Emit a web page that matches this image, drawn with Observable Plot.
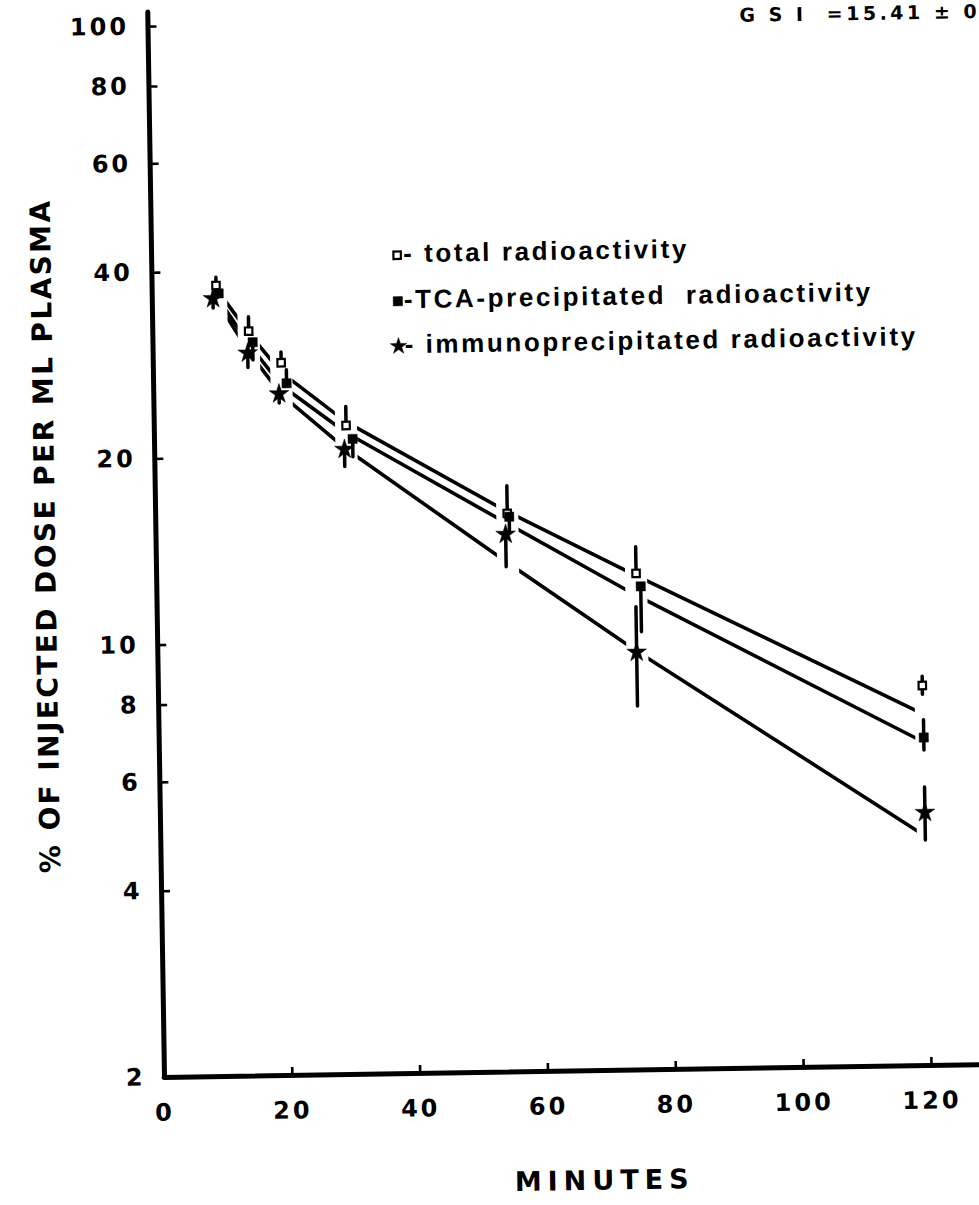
<!DOCTYPE html>
<html>
<head>
<meta charset="utf-8">
<script src="https://cdn.jsdelivr.net/npm/d3@7"></script>
<script src="https://cdn.jsdelivr.net/npm/@observablehq/plot@0.6"></script>
<style>
html, body { margin: 0; padding: 0; background: #fff; overflow: hidden; width: 979px; height: 1205px; }
#fig { position: relative; width: 979px; height: 1205px; transform: rotate(-0.9deg); transform-origin: 164px 1077px; }
#fig svg { position: absolute; left: 0; top: 0; }
.legend-row { position: absolute; font-family: "Liberation Sans", Arial, sans-serif; font-weight: bold; font-size: 26px; letter-spacing: 2.6px; line-height: 26px; white-space: pre; color: #000; }
.legend-sym { position: absolute; }
.gsi { position: absolute; font-family: "DejaVu Sans", sans-serif; font-weight: bold; font-size: 19px; letter-spacing: 3.5px; line-height: 19px; white-space: pre; color: #000; }
</style>
</head>
<body>
<div id="fig"></div>
<script>
// ---- data ----
const seriesNames = ["total radioactivity", "TCA-precipitated radioactivity", "immunoprecipitated radioactivity"];
const legendLabels = ["- total radioactivity", "-TCA-precipitated  radioactivity", "- immunoprecipitated radioactivity"];
const seriesSymbols = ["square", "square", "star"];
const seriesFills = ["white", "black", "black"];

// sampling times (minutes) for each series (plotted slightly offset)
const minutesTotal  = [10, 15, 20, 30, 55, 75, 119.5];
const minutesTCA    = [10.4, 15.6, 20.8, 31, 55.3, 75.7, 119.6];
const minutesImmuno = [9.5, 14.8, 19.6, 29.7, 54.7, 74.9, 119.6];

// % of injected dose per ml plasma
const totalPct  = [38.0, 32.0, 28.4, 22.4, 16.0, 12.7, 8.23];
const totalHi   = [39.1, 33.7, 29.5, 24.0, 17.7, 14.0, 8.5];
const totalLo   = [38.0, 32.0, 28.4, 22.4, 16.0, 12.7, 7.95];
const tcaPct    = [36.9, 30.7, 26.3, 21.3, 15.8, 12.1, 6.78];
const tcaHi     = [36.9, 30.7, 27.6, 21.3, 15.8, 12.1, 7.23];
const tcaLo     = [36.9, 28.7, 26.3, 19.9, 15.0, 10.2, 6.46];
const immunoPct = [36.2, 29.5, 25.3, 20.5, 14.8, 9.47, 5.13];
const immunoHi  = [36.2, 29.5, 25.3, 20.5, 14.8, 11.2, 5.63];
const immunoLo  = [34.9, 27.9, 24.4, 19.2, 13.1, 7.74, 4.62];

// hand-drawn fitted curves, read at the sampling times
const fitMinutes = [10, 15, 20, 30, 55, 75, 120];
const totalFit  = [37.6, 31.8, 27.4, 22.7, 16.1, 12.6, 7.36];
const tcaFit    = [36.6, 30.5, 26.1, 21.8, 15.4, 11.7, 6.63];
const immunoFit = [36.0, 29.6, 25.2, 20.5, 13.3, 9.5, 4.67];

// axes
const yTicks = [2, 4, 6, 8, 10, 20, 40, 60, 80, 100];
const xTickLabels = [0, 20, 40, 60, 80, 100, 120];
const xTickMarks = [20, 40, 60, 80, 100, 120];
const yTitle = "% OF INJECTED DOSE PER ML PLASMA";
const xTitle = "MINUTES";
const gsiText = "G S I  =15.41 ± 0";

// ---- build tables ----
function rows(name, t, v, lo, hi) {
  return t.map((d, i) => ({series: name, t: d, v: v[i], lo: lo[i], hi: hi[i]}));
}
const pts = [
  rows(seriesNames[0], minutesTotal, totalPct, totalLo, totalHi),
  rows(seriesNames[1], minutesTCA, tcaPct, tcaLo, tcaHi),
  rows(seriesNames[2], minutesImmuno, immunoPct, immunoLo, immunoHi)
];
const fits = [totalFit, tcaFit, immunoFit].map((f, k) =>
  fitMinutes.map((t, i) => ({series: seriesNames[k], t, fit: f[i]})));
const gaps = fitMinutes.map((t, i) => ({
  t,
  lo: Math.min(totalFit[i], tcaFit[i], immunoFit[i]) * 0.88,
  hi: Math.max(totalFit[i], tcaFit[i], immunoFit[i]) * 1.12
}));

const W = 979, H = 1205;
const mL = 164, mR = 0, mT = 26, mB = 128;
const frameW = W - mL - mR, frameH = H - mT - mB;
const symR = [4.2, 5.2, 6.2];

const marks = [];
fits.forEach(f => marks.push(Plot.line(f, {x: "t", y: "fit", stroke: "black", strokeWidth: 3.6, strokeLinecap: "round"})));
marks.push(Plot.ruleX(gaps, {x: "t", y1: "lo", y2: "hi", stroke: "white", strokeWidth: 22}));
pts.forEach(p => marks.push(Plot.ruleX(p, {x: "t", y1: "lo", y2: "hi", stroke: "black", strokeWidth: 3.5, strokeLinecap: "round"})));
pts.forEach((p, k) => marks.push(Plot.dot(p, {
  x: "t", y: "v", symbol: () => seriesSymbols[k], r: symR[k],
  fill: seriesFills[k], stroke: "black", strokeWidth: k === 0 ? 2.2 : 0.5
})));
// axis lines
marks.push(Plot.ruleX([0], {stroke: "black", strokeWidth: 5, strokeLinecap: "round", insetTop: -14}));
marks.push(Plot.ruleY([2], {stroke: "black", strokeWidth: 5, strokeLinecap: "round"}));
// inward tick marks
marks.push(Plot.tickY(yTicks, {y: d => d, stroke: "black", strokeWidth: 2.6, insetRight: frameW - 9}));
marks.push(Plot.tickX(xTickMarks, {x: d => d, stroke: "black", strokeWidth: 2.6, insetTop: frameH - 8}));
// tick labels
marks.push(Plot.text(yTicks, {y: d => d, text: d => String(d), frameAnchor: "left", textAnchor: "end", dx: -19}));
marks.push(Plot.axisX({ticks: xTickLabels, tickSize: 0, tickPadding: 26, tickFormat: d => String(d), label: null}));
// axis titles
marks.push(Plot.text([yTitle], {text: d => d, frameAnchor: "left", textAnchor: "middle", dx: -110, dy: -18, rotate: -90, fontSize: 28, fontWeight: "bold"}));
marks.push(Plot.text([xTitle], {text: d => d, frameAnchor: "bottom", textAnchor: "middle", dx: 31, dy: 119, fontSize: 27, fontWeight: "bold"}));

const chart = Plot.plot({
  width: W, height: H,
  marginLeft: mL, marginRight: mR, marginTop: mT, marginBottom: mB,
  x: {domain: [0, 127.5]},
  y: {type: "log", domain: [2, 100], axis: null},
  style: {fontFamily: "'DejaVu Sans', sans-serif", fontWeight: "bold", fontSize: "24px", letterSpacing: "3px", color: "black", background: "transparent", overflow: "visible"},
  marks
});
chart.querySelectorAll("text").forEach(t => {
  if (t.textContent === yTitle) t.style.letterSpacing = "2.4px";
  if (t.textContent === xTitle) t.style.letterSpacing = "6px";
});
const fig = document.getElementById("fig");
fig.appendChild(chart);

// legend (inside plot area, as in the original)
const legendX = 410, legendY0 = 259, legendDY = 45.5;
seriesNames.forEach((name, k) => {
  const cy = legendY0 + k * legendDY;
  const s = document.createElementNS("http://www.w3.org/2000/svg", "svg");
  s.setAttribute("width", 18); s.setAttribute("height", 18);
  s.setAttribute("class", "legend-sym");
  s.style.left = (legendX - 9) + "px"; s.style.top = (cy - 9) + "px";
  const p = document.createElementNS("http://www.w3.org/2000/svg", "path");
  const rr = k === 2 ? 5.2 : symR[k];
  const sym = seriesSymbols[k] === "star" ? d3.symbolStar : d3.symbolSquare;
  p.setAttribute("d", d3.symbol(sym, Math.PI * rr * rr)());
  p.setAttribute("transform", "translate(9,9)");
  p.setAttribute("fill", seriesFills[k]);
  p.setAttribute("stroke", "black");
  p.setAttribute("stroke-width", k === 0 ? 2.2 : 0.5);
  s.appendChild(p);
  fig.appendChild(s);
  const d = document.createElement("div");
  d.className = "legend-row";
  d.textContent = legendLabels[k];
  d.style.left = (legendX + 6) + "px";
  d.style.top = (cy - 15) + "px";
  fig.appendChild(d);
});
const g = document.createElement("div");
g.className = "gsi";
g.textContent = gsiText;
g.style.left = "756px"; g.style.top = "15px";
fig.appendChild(g);
</script>
</body>
</html>
